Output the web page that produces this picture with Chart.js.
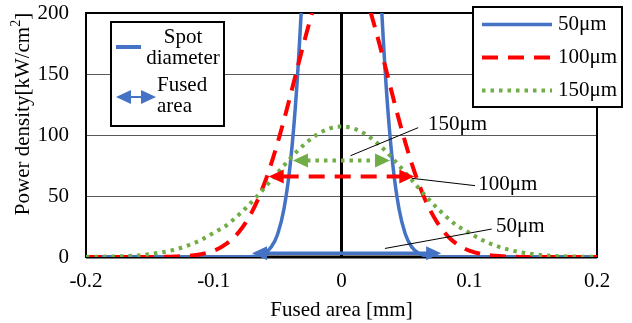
<!DOCTYPE html>
<html>
<head>
<meta charset="utf-8">
<script src="https://cdn.jsdelivr.net/npm/chart.js@4/dist/chart.umd.min.js"></script>
<style>
  html, body { margin: 0; padding: 0; background: #fff; }
  #wrap { width: 632px; height: 323px; }
</style>
</head>
<body>
<div id="wrap"><canvas id="power-chart" width="632" height="323"></canvas></div>
<script>
// Vị trí x (mm) và mật độ công suất (kW/cm²) của từng đường kính điểm
const xs = [
  -0.2, -0.19, -0.18, -0.17, -0.16, -0.15, -0.14, -0.13, -0.12, -0.11,
  -0.1, -0.095, -0.09, -0.085, -0.08, -0.075, -0.07, -0.065, -0.06, -0.055,
  -0.05, -0.045, -0.04, -0.035, -0.03, -0.025, -0.02, -0.015, -0.01, -0.005,
  0,
  0.005, 0.01, 0.015, 0.02, 0.025, 0.03, 0.035, 0.04, 0.045, 0.05,
  0.055, 0.06, 0.065, 0.07, 0.075, 0.08, 0.085, 0.09, 0.095, 0.1,
  0.11, 0.12, 0.13, 0.14, 0.15, 0.16, 0.17, 0.18, 0.19, 0.2
];
const power50 = [
  0, 0, 0, 0, 0, 0, 0, 0, 0, 0,
  0, 0, 0, 0, 0, 0.1, 0.4, 1.2, 3.3, 8.2,
  18.7, 39.5, 77.1, 139.5, 233, 359, 512, 675, 822, 926,
  963,
  926, 822, 675, 512, 359, 233, 139.5, 77.1, 39.5, 18.7,
  8.2, 3.3, 1.2, 0.4, 0.1, 0, 0, 0, 0, 0,
  0, 0, 0, 0, 0, 0, 0, 0, 0, 0
];
const power100 = [
  0, 0, 0, 0, 0, 0, 0.1, 0.4, 1.0, 2.3,
  5.2, 7.6, 10.9, 15.2, 20.9, 28.2, 37.2, 48.2, 61.3, 76.5,
  93.7, 112.4, 132.4, 153.0, 173.3, 192.6, 210.1, 224.7, 235.8, 242.6,
  245,
  242.6, 235.8, 224.7, 210.1, 192.6, 173.3, 153.0, 132.4, 112.4, 93.7,
  76.5, 61.3, 48.2, 37.2, 28.2, 20.9, 15.2, 10.9, 7.6, 5.2,
  2.3, 1.0, 0.4, 0.1, 0, 0, 0, 0, 0, 0
];
const power150 = [
  0.1, 0.2, 0.4, 0.7, 1.2, 2.4, 3.9, 6.2, 9.5, 14.0,
  19.8, 22.8, 26.0, 30.3, 35.0, 40.0, 45.4, 51.1, 57.0, 63.1,
  69.1, 75.1, 80.9, 86.4, 91.4, 95.9, 99.8, 102.9, 105.1, 106.5,
  107,
  106.5, 105.1, 102.9, 99.8, 95.9, 91.4, 86.4, 80.9, 75.1, 69.1,
  63.1, 57.0, 51.1, 45.4, 40.0, 35.0, 30.3, 26.0, 22.8, 19.8,
  14.0, 9.5, 6.2, 3.9, 2.4, 1.2, 0.7, 0.4, 0.2, 0.1
];
const seriesNames = ['50μm', '100μm', '150μm'];

// Vùng nóng chảy: mũi tên hai đầu cho mỗi đường kính
const fusedLeft = [-0.070, -0.057, -0.038];
const fusedRight = [0.078, 0.057, 0.038];
const fusedLevel = [3, 66, 79];

// Nhãn chú thích kèm đường dẫn
const noteText = ['150μm', '100μm', '50μm'];
const noteFromX = [0.007, 0.055, 0.034];
const noteFromY = [83, 64.5, 7];
const noteToX = [0.060, 0.1045, 0.1176];
const noteToY = [106, 58.5, 22.9];
const noteTextX = [0.0677, 0.1071, 0.121];
const noteTextY = [108.5, 59.3, 25.2];

const xTicks = ['-0.2', '-0.1', '0', '0.1', '0.2'];
const yTicks = ['0', '50', '100', '150', '200'];

const COLORS = ['#4472C4', '#FF0000', '#70AD47'];
const DASHES = [[], [16, 10], [3.5, 5]];
const WIDTHS = [3.5, 4, 4];
const FONT = '"Liberation Serif", "Times New Roman", serif';

Chart.defaults.font.family = FONT;
Chart.defaults.font.size = 21;
Chart.defaults.color = '#000';

function setDash(ctx, i) {
  ctx.setLineDash(DASHES[i]);
  ctx.lineWidth = WIDTHS[i];
  ctx.strokeStyle = COLORS[i];
}

function arrowHead(ctx, x, y, dir, color) {
  ctx.beginPath();
  ctx.moveTo(x, y);
  ctx.lineTo(x - dir * 15, y - 7);
  ctx.lineTo(x - dir * 15, y + 7);
  ctx.closePath();
  ctx.fillStyle = color;
  ctx.fill();
}

const decorPlugin = {
  id: 'decor',
  beforeDatasetsDraw(chart) {
    const { ctx, chartArea: a, scales: { x, y } } = chart;
    ctx.save();
    ctx.strokeStyle = '#000';
    ctx.lineWidth = 2;
    ctx.strokeRect(a.left, a.top, a.right - a.left, a.bottom - a.top);
    // trục x=0 và y=0 đậm
    ctx.lineWidth = 3;
    ctx.beginPath();
    ctx.moveTo(x.getPixelForValue(0), a.top);
    ctx.lineTo(x.getPixelForValue(0), a.bottom);
    ctx.moveTo(a.left, y.getPixelForValue(0));
    ctx.lineTo(a.right, y.getPixelForValue(0));
    ctx.stroke();
    ctx.restore();
  },
  afterDatasetsDraw(chart) {
    const { ctx, scales: { x, y } } = chart;
    ctx.save();
    // mũi tên vùng nóng chảy
    for (let i = 0; i < fusedLevel.length; i++) {
      const x1 = x.getPixelForValue(fusedLeft[i]);
      const x2 = x.getPixelForValue(fusedRight[i]);
      const py = y.getPixelForValue(fusedLevel[i]);
      setDash(ctx, i);
      ctx.beginPath();
      ctx.moveTo(x1 + 14, py);
      ctx.lineTo(x2 - 14, py);
      ctx.stroke();
      ctx.setLineDash([]);
      arrowHead(ctx, x1, py, -1, COLORS[i]);
      arrowHead(ctx, x2, py, 1, COLORS[i]);
    }
    // đường dẫn + nhãn
    ctx.strokeStyle = '#000';
    ctx.lineWidth = 1;
    ctx.fillStyle = '#000';
    ctx.font = '21px ' + FONT;
    ctx.textAlign = 'left';
    ctx.textBaseline = 'middle';
    for (let i = 0; i < noteText.length; i++) {
      ctx.beginPath();
      ctx.moveTo(x.getPixelForValue(noteFromX[i]), y.getPixelForValue(noteFromY[i]));
      ctx.lineTo(x.getPixelForValue(noteToX[i]), y.getPixelForValue(noteToY[i]));
      ctx.stroke();
      ctx.fillText(noteText[i], x.getPixelForValue(noteTextX[i]), y.getPixelForValue(noteTextY[i]));
    }
    ctx.restore();
  },
  afterDraw(chart) {
    const ctx = chart.ctx;
    ctx.save();
    ctx.font = '21px ' + FONT;
    ctx.fillStyle = '#000';
    ctx.textBaseline = 'middle';

    // tiêu đề trục y có chỉ số trên
    ctx.save();
    ctx.translate(23, 114);
    ctx.rotate(-Math.PI / 2);
    const t1 = 'Power density[kW/cm', t2 = '2', t3 = ']';
    const w1 = ctx.measureText(t1).width, w3 = ctx.measureText(t3).width;
    ctx.font = '14px ' + FONT;
    const w2 = ctx.measureText(t2).width;
    let sx = -(w1 + w2 + w3) / 2;
    ctx.font = '21px ' + FONT;
    ctx.textAlign = 'left';
    ctx.fillText(t1, sx, 0);
    ctx.font = '14px ' + FONT;
    ctx.fillText(t2, sx + w1, -7);
    ctx.font = '21px ' + FONT;
    ctx.fillText(t3, sx + w1 + w2, 0);
    ctx.restore();

    // chú giải trái
    ctx.fillStyle = '#fff';
    ctx.fillRect(111, 22, 113, 104);
    ctx.strokeStyle = '#000';
    ctx.lineWidth = 2;
    ctx.strokeRect(111, 22, 113, 104);
    ctx.strokeStyle = COLORS[0];
    ctx.lineWidth = 4;
    ctx.beginPath(); ctx.moveTo(116, 47); ctx.lineTo(141, 47); ctx.stroke();
    ctx.lineWidth = 2;
    ctx.beginPath(); ctx.moveTo(128, 97); ctx.lineTo(144, 97); ctx.stroke();
    arrowHead(ctx, 116, 97, -1, COLORS[0]);
    arrowHead(ctx, 156, 97, 1, COLORS[0]);
    ctx.fillStyle = '#000';
    ctx.textAlign = 'center';
    ctx.fillText('Spot', 183, 37);
    ctx.fillText('diameter', 183, 58);
    ctx.textAlign = 'left';
    ctx.fillText('Fused', 157, 85);
    ctx.fillText('area', 157, 106);

    // chú giải phải
    ctx.fillStyle = '#fff';
    ctx.fillRect(473, 7, 149, 100);
    ctx.strokeStyle = '#000';
    ctx.lineWidth = 2;
    ctx.strokeRect(473, 7, 149, 100);
    const ly = [24.5, 57.5, 90.5];
    for (let i = 0; i < seriesNames.length; i++) {
      setDash(ctx, i);
      ctx.beginPath(); ctx.moveTo(482, ly[i]); ctx.lineTo(552, ly[i]); ctx.stroke();
      ctx.setLineDash([]);
      ctx.fillStyle = '#000';
      ctx.fillText(seriesNames[i], 558, ly[i]);
    }
    ctx.restore();
  }
};

const seriesData = [power50, power100, power150];

new Chart(document.getElementById('power-chart'), {
  type: 'line',
  data: {
    datasets: seriesData.map((vals, i) => ({
      label: seriesNames[i],
      data: xs.map((x, k) => ({ x, y: vals[k] })),
      borderColor: COLORS[i],
      borderWidth: WIDTHS[i],
      borderDash: DASHES[i],
      pointRadius: 0,
      cubicInterpolationMode: 'monotone',
      fill: false,
      order: 2 - i
    }))
  },
  options: {
    responsive: false,
    animation: false,
    devicePixelRatio: 1,
    layout: { padding: { top: 13, right: 35, left: 0, bottom: 0 } },
    plugins: { legend: { display: false }, tooltip: { enabled: false } },
    scales: {
      x: {
        type: 'linear',
        min: -0.2, max: 0.2,
        afterFit: s => { s.height = 66; s.paddingLeft = 0; s.paddingRight = 0; },
        afterBuildTicks: s => { s.ticks = xTicks.map(v => ({ value: parseFloat(v) })); },
        ticks: { padding: 12, maxRotation: 0, callback: (v, i) => xTicks[i] },
        grid: { display: false, drawTicks: false },
        border: { display: false },
        title: { display: true, text: 'Fused area [mm]', padding: { top: 0, bottom: 0 } }
      },
      y: {
        min: 0, max: 200,
        afterFit: s => { s.width = 86; s.paddingTop = 0; s.paddingBottom = 0; },
        afterBuildTicks: s => { s.ticks = yTicks.map(v => ({ value: parseFloat(v) })); },
        ticks: { padding: 17, callback: (v, i) => yTicks[i] },
        grid: {
          drawTicks: false,
          color: c => (c.tick && (c.tick.value === 0 || c.tick.value === 200)) ? 'rgba(0,0,0,0)' : '#595959',
          lineWidth: 1
        },
        border: { display: false }
      }
    }
  },
  plugins: [decorPlugin]
});
</script>
</body>
</html>
